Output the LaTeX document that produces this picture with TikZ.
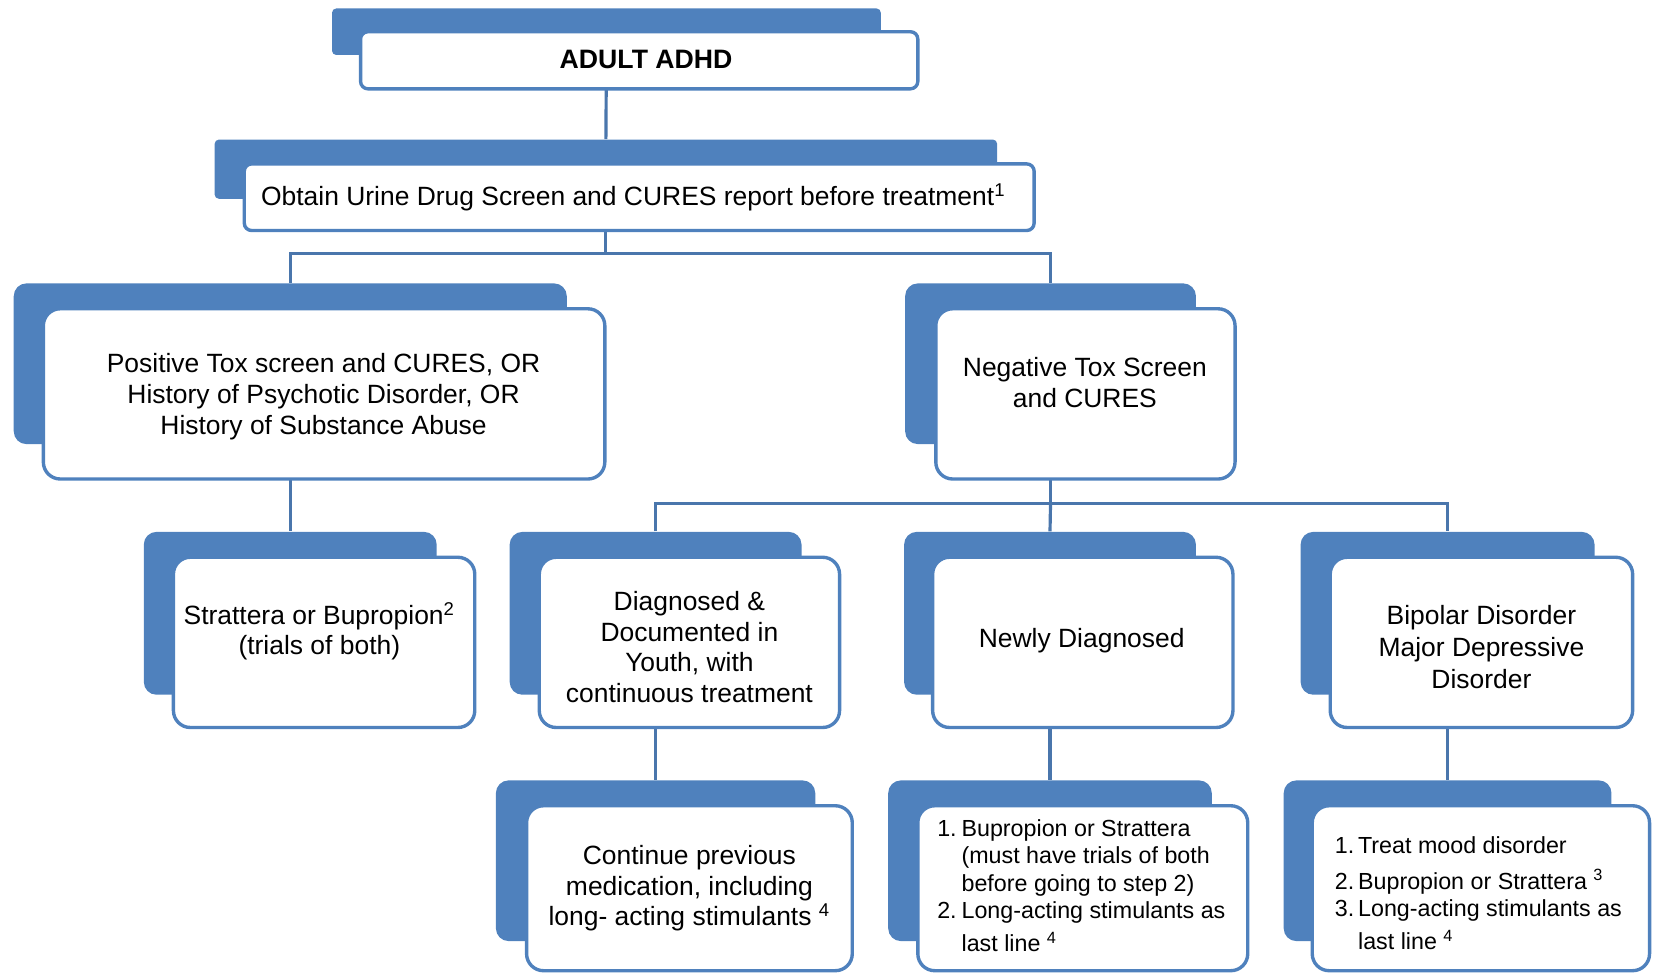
\documentclass[tikz,border=0pt]{standalone}
\usepackage{fontspec}
\setmainfont{Liberation Sans}
\usetikzlibrary{fit}
\definecolor{sblue}{HTML}{4F81BD}
\definecolor{lblue}{HTML}{4A76AC}
\pgfdeclarelayer{bg}
\pgfsetlayers{bg,main}
\begin{document}
\begin{tikzpicture}[x=0.5pt,y=-0.5pt,
 back/.style={fill=sblue, draw=none, inner sep=0pt, rounded corners=6pt},
 wbox/.style={fill=white, draw=sblue, line width=1.6pt, inner sep=0pt, rounded corners=8pt},
 sback/.style={back, rounded corners=2pt},
 swbox/.style={wbox, rounded corners=3.5pt},
 txt/.style={align=center, font=\fontsize{12.5}{14.5}\selectfont, inner sep=0pt},
 lst/.style={align=left, font=\fontsize{11}{13}\selectfont, inner sep=0pt, anchor=base west},
 conn/.style={draw=lblue, line width=1.5pt}]
\useasboundingbox (0,0) rectangle (1568,922);
% backs
\node[sback, fit={(314,8) (833,52)}] (adultB) {};
\node[sback, fit={(203,132) (943,188)}] (obtB) {};
\node[back, fit={(13,268) (536,420)}] (posB) {};
\node[back, fit={(856,268) (1131,420)}] (negB) {};
\node[back, fit={(136,503) (413,657)}] (strB) {};
\node[back, fit={(482,503) (758,657)}] (diaB) {};
\node[back, fit={(855,503) (1131,657)}] (newB) {};
\node[back, fit={(1230,503) (1508,657)}] (bipB) {};
\node[back, fit={(469,738) (771,890)}] (conB) {};
\node[back, fit={(840,738) (1146,890)}] (nlB) {};
\node[back, fit={(1214,738) (1524,890)}] (blB) {};
% white boxes
\node[swbox, fit={(341,30) (868,84)}] (adult) {};
\node[swbox, fit={(231,155) (978,218)}] (obt) {};
\node[wbox, fit={(41,292) (572,453)}] (pos) {};
\node[wbox, fit={(885,292) (1168,453)}] (neg) {};
\node[wbox, fit={(164,527) (449,688)}] (str) {};
\node[wbox, fit={(510,527) (794,688)}] (dia) {};
\node[wbox, fit={(882,527) (1166,688)}] (new) {};
\node[wbox, fit={(1258,527) (1544,688)}] (bip) {};
\node[wbox, fit={(498,762) (806,918)}] (con) {};
\node[wbox, fit={(868,762) (1180,918)}] (nl) {};
\node[wbox, fit={(1241,762) (1560,918)}] (bl) {};
% connectors
\begin{pgfonlayer}{bg}
\coordinate (j1) at (obtB.south |- 0,240);
\coordinate (j2) at (negB.south |- 0,476);
\draw[conn] (adultB.south) -- (obtB.north);
\draw[conn] (obtB.south) -- (j1);
\draw[conn] (posB.north) |- (j1) -| (negB.north);
\draw[conn] (posB.south) -- (strB.north);
\draw[conn] (negB.south) -- (j2);
\draw[conn] (diaB.north) |- (j2) -| (bipB.north);
\draw[conn] (j2) -- (newB.north);
\draw[conn] (diaB.south) -- (conB.north);
\draw[conn] (newB.south) -- (nlB.north);
\draw[conn] (bipB.south) -- (blB.north);
\end{pgfonlayer}
% texts
\node[txt, font=\fontsize{12.6}{14.5}\selectfont\bfseries] (adultT) at (611,56) {ADULT ADHD};
\node[txt] (obtT) at (599,187) {Obtain Urine Drug Screen and CURES report before treatment\textsuperscript{1}};
\node[txt] (posT) at (306,375) {Positive Tox screen and CURES, OR\\History of Psychotic Disorder, OR\\History of Substance Abuse};
\node[txt] (negT) at (1026,362) {Negative Tox Screen\\and CURES};
\node[txt] (strT) at (302,597) {Strattera or Bupropion\textsuperscript{2}\\(trials of both)};
\node[txt] (diaT) at (652,612) {Diagnosed \&\\Documented in\\Youth, with\\continuous treatment};
\node[txt] (newT) at (1023,606) {Newly Diagnosed};
\node[txt, font=\fontsize{12.5}{15}\selectfont] (bipT) at (1401,612) {Bipolar Disorder\\Major Depressive\\Disorder};
\node[txt] (conT) at (652,840) {Continue previous\\medication, including\\long- acting stimulants \textsuperscript{4}};
\node[lst] (nlT) at (886,900) {\makebox[11.5pt][l]{1.}Bupropion or Strattera\\\hspace*{11.5pt}(must have trials of both\\\hspace*{11.5pt}before going to step 2)\\\makebox[11.5pt][l]{2.}Long-acting stimulants as\\[2.5pt]\hspace*{11.5pt}last line \textsuperscript{4}};
\node[lst] (blT) at (1262,898) {\makebox[11pt][l]{1.}Treat mood disorder\\[4pt]\makebox[11pt][l]{2.}Bupropion or Strattera \textsuperscript{3}\\\makebox[11pt][l]{3.}Long-acting stimulants as\\[2.5pt]\hspace*{11pt}last line \textsuperscript{4}};
\end{tikzpicture}
\end{document}
